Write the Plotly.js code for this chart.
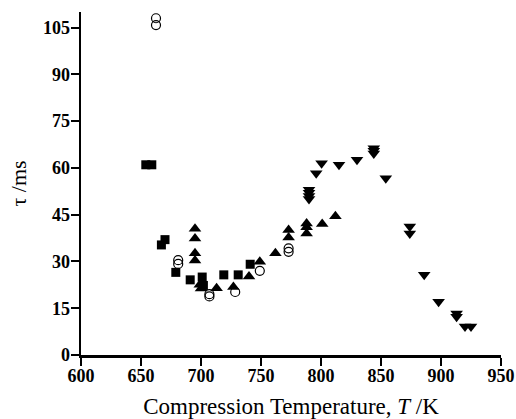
<!DOCTYPE html>
<html>
<head>
<meta charset="utf-8">
<script src="https://cdn.plot.ly/plotly-3.0.1.min.js"></script>
<style>html,body{margin:0;padding:0;background:#fff;}#chart{width:516px;height:419px;}</style>
</head>
<body>
<div id="chart"></div>
<script>
// Squares (filled)
const sqT   = [654, 659, 667, 670, 679, 691, 701, 702, 719, 731, 741];
const sqTau = [61, 61, 35.3, 37, 26.5, 24.1, 25, 22.3, 25.7, 25.7, 29.1];
// Open circles
const ciT   = [662.5, 662.5, 681, 681, 707, 707, 728.5, 749, 773, 773];
const ciTau = [108, 105.8, 30.4, 29.2, 19.5, 18.8, 20.2, 27, 34.2, 33.1];
// Up triangles (filled)
const upT   = [695, 695, 695, 695, 699, 700, 713, 727, 740, 749, 762, 773, 773, 788, 788, 788, 801, 812];
const upTau = [40.5, 37.4, 32.6, 30.3, 22.5, 21.3, 21.4, 21.8, 25.2, 29.9, 32.6, 40.1, 37.7, 42.2, 41, 39, 42, 44.5];
// Down triangles (filled)
const dnT   = [790, 790, 790, 790, 796, 800.5, 815, 830, 844, 844, 844, 854, 874, 874, 886, 898, 913, 913, 920, 925];
const dnTau = [53, 52, 51, 50, 58.3, 61.5, 61, 62.6, 66.3, 65.5, 64.6, 56.7, 41.2, 39, 25.7, 17.1, 13.3, 12.3, 9.1, 9.1];

// Tick labels / positions
const xTicks = [600, 650, 700, 750, 800, 850, 900, 950];
const yTicks = [0, 15, 30, 45, 60, 75, 90, 105];
const xMinor = [625, 675, 725, 775, 825, 875, 925];
const yMinor = [7.5, 22.5, 37.5, 52.5, 67.5, 82.5, 97.5];

const serif = 'Liberation Serif';

const traces = [
  {x: sqT, y: sqTau, mode: 'markers', type: 'scatter',
   marker: {symbol: 'square', size: 9, color: 'black'}},
  {x: ciT, y: ciTau, mode: 'markers', type: 'scatter',
   marker: {symbol: 'circle-open', size: 9, color: 'black', line: {width: 1.2, color: 'black'}}},
  {x: upT, y: upTau, mode: 'markers', type: 'scatter',
   marker: {symbol: 'triangle-up', size: 11, color: 'black'}},
  {x: dnT, y: dnTau, mode: 'markers', type: 'scatter',
   marker: {symbol: 'triangle-down', size: 11, color: 'black'}}
];

const layout = {
  width: 516, height: 419,
  margin: {l: 81, r: 15, t: 12, b: 64},
  paper_bgcolor: 'white', plot_bgcolor: 'white',
  showlegend: false,
  font: {family: serif, color: 'black'},
  xaxis: {
    showline: true, linecolor: 'black', linewidth: 2.5,
    ticks: 'outside', ticklen: 8, tickwidth: 2, tickcolor: 'black',
    showgrid: false, zeroline: false,
    tickfont: {family: serif, size: 18, color: 'black'},
    ticklabelstandoff: -5,
    range: [600, 950], tickmode: 'array', tickvals: xTicks,
    ticktext: xTicks.map(v => '<b>' + v + '</b>'),
    title: {text: 'Compression Temperature, <i>T</i> /K', font: {family: serif, size: 23, color: 'black'}, standoff: 15}
  },
  yaxis: {
    showline: true, linecolor: 'black', linewidth: 2.5,
    ticks: 'outside', ticklen: 8, tickwidth: 2, tickcolor: 'black',
    showgrid: false, zeroline: false,
    tickfont: {family: serif, size: 18, color: 'black'},
    ticklabelstandoff: -3,
    range: [0, 110], tickmode: 'array', tickvals: yTicks,
    ticktext: yTicks.map(v => '<b>' + v + '</b>'),
    title: {text: 'τ /ms', font: {family: serif, size: 22, color: 'black'}, standoff: 10}
  },
  xaxis2: {
    overlaying: 'x', anchor: 'y', side: 'bottom',
    range: [600, 950], tickmode: 'array', tickvals: xMinor,
    ticks: 'outside', ticklen: 4, tickwidth: 2, tickcolor: 'black',
    showticklabels: false, showline: false, showgrid: false, zeroline: false
  },
  yaxis2: {
    overlaying: 'y', anchor: 'x', side: 'left',
    range: [0, 110], tickmode: 'array', tickvals: yMinor,
    ticks: 'outside', ticklen: 4, tickwidth: 2, tickcolor: 'black',
    showticklabels: false, showline: false, showgrid: false, zeroline: false
  }
};

Plotly.newPlot('chart', traces, layout, {staticPlot: true, displayModeBar: false});
</script>
</body>
</html>
